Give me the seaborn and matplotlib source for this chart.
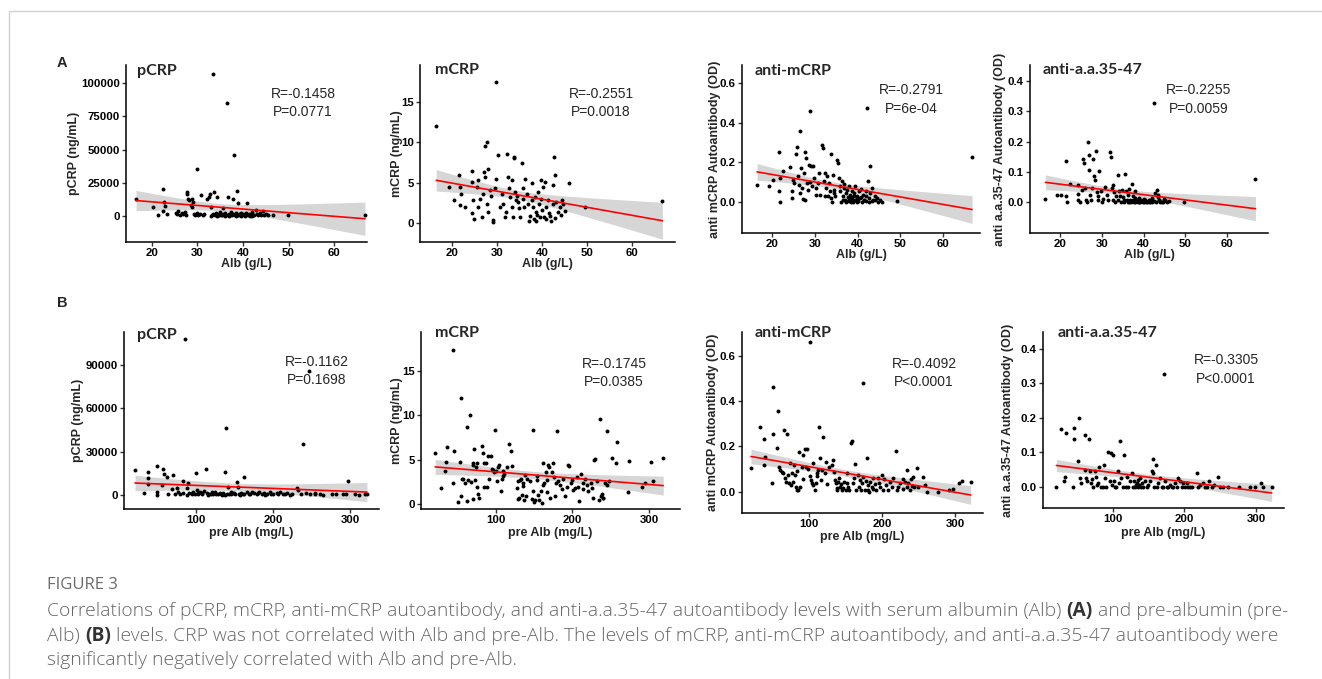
import numpy as np
import matplotlib
matplotlib.use("Agg")
import matplotlib.pyplot as plt
import seaborn as sns
from matplotlib.lines import Line2D

W, H, DPI = 1322, 679, 100

# ---- values: (x, y) per patient ----
pcrp_alb = [
    (16.5, 13000), (20.3, 6500), (21.3, 700), (22.5, 20300), (22.7, 10500), (22.9, 7500), (22.4, 4000),
    (23.4, 1500), (25.2, 2500), (25.5, 1200), (25.8, 3500), (26.2, 800), (26.5, 2000), (26.8, 1500),
    (27.2, 3000), (27.5, 600), (27.6, 18000), (27.7, 16800), (27.9, 13000), (28.2, 12000), (28.5, 8500),
    (28.7, 7000), (28.9, 12500), (29.0, 10500), (29.2, 1500), (29.5, 700), (29.8, 35000), (30.0, 2200),
    (30.2, 1000), (30.5, 1800), (30.8, 15500), (31.2, 800), (31.5, 1200), (32.0, 13000), (32.5, 14500),
    (32.8, 16500), (33.0, 7000), (33.2, 1000), (33.4, 107000), (33.6, 18000), (33.8, 500), (34.0, 2500),
    (34.2, 14500), (34.5, 800), (34.8, 1500), (35.0, 3000), (35.2, 600), (35.5, 6000), (35.7, 1200),
    (35.9, 500), (36.1, 2000), (36.3, 900), (36.5, 85000), (36.7, 14500), (36.9, 1500), (37.1, 700),
    (37.3, 3000), (37.5, 500), (37.7, 1200), (37.9, 12500), (38.0, 46000), (38.2, 800), (38.4, 2000),
    (38.6, 19000), (38.8, 600), (39.0, 9500), (39.2, 1500), (39.4, 500), (39.6, 2500), (39.8, 900),
    (40.0, 1300), (40.3, 600), (40.6, 2200), (40.8, 10000), (41.0, 800), (41.3, 1500), (41.6, 500),
    (41.9, 3000), (42.2, 1000), (42.5, 700), (42.8, 4500), (43.1, 1200), (43.4, 600), (43.7, 2000),
    (44.0, 900), (44.3, 3500), (44.6, 700), (45.0, 1500), (45.5, 800), (46.5, 1000), (49.8, 800),
    (66.8, 500), (33.0, 300), (34.3, 200), (35.4, 400), (36.0, 300), (37.0, 200), (38.5, 300),
    (39.5, 200), (40.5, 300), (41.5, 200), (42.0, 300), (36.8, 600), (35.8, 1800), (34.8, 400), (33.5, 1500),
]

mcrp_alb = [
    (16.5, 12.0), (19.4, 4.5), (20.4, 2.8), (21.5, 5.9), (21.7, 2.2), (21.8, 4.5), (22.0, 3.6), (22.8, 2.0),
    (24.4, 6.5), (24.4, 5.1), (24.6, 2.8), (24.4, 1.2), (24.8, 0.5), (25.5, 4.5), (25.7, 5.3), (25.9, 2.0),
    (26.3, 3.0), (26.6, 0.7), (27.0, 3.6), (27.2, 6.3), (27.4, 5.7), (27.4, 9.6), (27.7, 10.0), (27.7, 2.4),
    (28.1, 6.7), (28.1, 1.4), (28.5, 4.1), (28.7, 3.4), (29.2, 0.4), (29.2, 0.15), (29.6, 4.3), (29.8, 5.5),
    (29.9, 17.5), (30.3, 8.4), (30.6, 2.0), (31.1, 3.6), (31.4, 2.4), (31.8, 0.7), (32.0, 1.4), (32.2, 8.6),
    (32.5, 5.7), (32.8, 4.3), (32.9, 3.2), (33.3, 5.3), (33.3, 2.0), (33.5, 0.7), (33.7, 8.2), (33.8, 8.0),
    (34.0, 3.8), (34.2, 2.8), (34.4, 3.4), (34.8, 2.6), (35.0, 1.8), (35.1, 0.7), (35.5, 7.4), (35.7, 4.3),
    (35.9, 3.0), (36.0, 2.0), (36.2, 5.5), (36.6, 3.6), (37.0, 2.4), (37.2, 0.3), (37.3, 0.9), (37.7, 2.8),
    (37.9, 4.9), (38.1, 2.0), (38.2, 0.5), (38.5, 3.2), (38.7, 1.4), (38.8, 0.3), (39.2, 3.8), (39.4, 2.4),
    (39.6, 0.7), (39.7, 5.3), (39.9, 3.0), (40.1, 1.6), (40.3, 4.5), (40.7, 5.1), (40.9, 2.0), (41.0, 0.5),
    (41.4, 2.8), (41.8, 0.9), (42.1, 0.3), (42.4, 4.7), (42.5, 2.4), (42.7, 8.2), (42.9, 5.9), (43.2, 2.6),
    (43.6, 1.4), (44.0, 2.0), (44.4, 2.8), (44.7, 2.4), (46.1, 4.9), (49.5, 2.0), (66.8, 2.7),
    (39.0, 1.0), (40.5, 0.8), (41.5, 1.2), (43.0, 0.6), (44.2, 1.0), (45.2, 1.5),
]

amcrp_alb = [
    (16.5, 0.084), (19.4, 0.082), (20.2, 0.11), (21.6, 0.25), (21.6, 0.054), (21.8, 0.0), (21.8, 0.12),
    (22.6, 0.155), (24.3, 0.176), (24.7, 0.054), (24.7, 0.02), (24.9, 0.113), (25.1, 0.096), (25.7, 0.24),
    (25.9, 0.28), (26.0, 0.13), (26.3, 0.087), (26.5, 0.045), (26.6, 0.356), (26.8, 0.17), (27.0, 0.07),
    (27.3, 0.015), (27.4, 0.146), (27.6, 0.012), (27.8, 0.25), (28.0, 0.22), (28.2, 0.096), (28.4, 0.062),
    (28.6, 0.188), (28.8, 0.1), (29.0, 0.46), (29.1, 0.18), (29.4, 0.079), (29.6, 0.18), (29.9, 0.12),
    (30.2, 0.037), (30.4, 0.07), (30.7, 0.096), (30.9, 0.146), (31.3, 0.034), (31.7, 0.286), (31.9, 0.272),
    (32.1, 0.104), (32.3, 0.032), (32.5, 0.146), (32.7, 0.07), (32.9, 0.13), (33.0, 0.029), (33.3, 0.096),
    (33.5, 0.054), (33.7, 0.244), (33.8, 0.02), (34.1, 0.0), (34.3, 0.138), (34.5, 0.045), (34.6, 0.062),
    (34.8, 0.029), (35.2, 0.213), (35.4, 0.197), (35.6, 0.12), (35.8, 0.079), (36.0, 0.054), (36.2, 0.0),
    (36.4, 0.104), (36.6, 0.029), (36.8, 0.07), (36.9, 0.092), (37.1, 0.012), (37.3, 0.045), (37.4, 0.0),
    (37.6, 0.059), (37.7, 0.025), (37.9, 0.079), (38.0, 0.003), (38.2, 0.037), (38.4, 0.015), (38.5, 0.0),
    (38.7, 0.054), (38.8, 0.025), (39.0, 0.0), (39.1, 0.045), (39.3, 0.012), (39.5, 0.079), (39.8, 0.029),
    (39.9, 0.0), (40.3, 0.054), (40.5, 0.02), (40.7, 0.066), (41.1, 0.0), (41.3, 0.037), (41.5, 0.012),
    (41.9, 0.054), (42.1, 0.029), (42.3, 0.474), (42.4, 0.104), (42.7, 0.0), (42.9, 0.045), (43.0, 0.18),
    (43.4, 0.07), (43.7, 0.012), (44.2, 0.029), (44.8, 0.0), (45.8, 0.0), (49.3, 0.003), (66.8, 0.225),
    (36.5, 0.012), (37.2, 0.005), (38.0, 0.02), (38.6, 0.008), (39.2, 0.03), (39.8, 0.015), (40.2, 0.004),
    (40.8, 0.025), (41.4, 0.01), (42.0, 0.006), (42.6, 0.018), (43.3, 0.003), (44.0, 0.012), (44.6, 0.02),
    (45.3, 0.008),
]

aaa_alb = [
    (16.5, 0.011), (19.2, 0.022), (20.2, 0.022), (21.4, 0.137), (21.4, 0.019), (21.6, 0.0), (22.4, 0.06),
    (24.2, 0.057), (24.2, 0.026), (24.4, 0.008), (24.8, 0.0), (25.2, 0.041), (25.4, 0.141), (25.8, 0.13),
    (26.0, 0.046), (26.2, 0.008), (26.4, 0.0), (26.6, 0.2), (26.9, 0.156), (27.0, 0.106), (27.2, 0.024),
    (27.4, 0.008), (27.6, 0.046), (27.8, 0.141), (28.2, 0.087), (28.4, 0.073), (28.6, 0.167), (28.8, 0.032),
    (29.0, 0.019), (29.2, 0.008), (29.4, 0.101), (29.8, 0.038), (30.0, 0.0), (30.4, 0.01), (30.8, 0.048),
    (31.2, 0.024), (31.6, 0.008), (32.0, 0.164), (32.2, 0.148), (32.4, 0.046), (32.6, 0.055), (32.8, 0.008),
    (33.0, 0.032), (33.2, 0.0), (33.4, 0.019), (33.8, 0.09), (34.0, 0.008), (34.2, 0.035), (34.4, 0.021),
    (34.6, 0.0), (34.8, 0.041), (35.0, 0.015), (35.2, 0.008), (35.4, 0.0), (35.6, 0.092), (35.8, 0.038),
    (36.0, 0.008), (36.2, 0.024), (36.4, 0.0), (36.6, 0.043), (36.8, 0.008), (37.2, 0.06), (37.4, 0.019),
    (37.6, 0.0), (38.0, 0.038), (38.2, 0.008), (38.6, 0.0), (38.8, 0.013), (39.2, 0.0), (39.6, 0.008),
    (40.0, 0.0), (40.4, 0.008), (40.8, 0.0), (41.2, 0.008), (41.6, 0.0), (42.4, 0.326), (42.8, 0.03),
    (43.2, 0.041), (43.4, 0.024), (43.6, 0.008), (44.0, 0.0), (44.6, 0.0), (45.2, 0.005), (49.6, 0.0),
    (66.8, 0.077),
    (36.3, 0.0), (36.7, 0.004), (37.0, 0.0), (37.5, 0.006), (37.9, 0.0), (38.3, 0.003), (38.7, 0.008),
    (39.0, 0.0), (39.4, 0.004), (39.8, 0.0), (40.2, 0.006), (40.6, 0.0), (41.0, 0.003), (41.4, 0.0),
    (41.8, 0.008), (42.1, 0.0), (42.6, 0.004), (43.0, 0.0), (43.8, 0.006), (44.3, 0.0), (44.8, 0.003),
    (45.5, 0.0), (46.0, 0.004), (38.0, 0.012), (40.0, 0.01), (42.0, 0.012), (43.5, 0.015), (45.0, 0.01),
]

pcrp_pre = [
    (20.8, 17300), (32.9, 1600), (38.1, 16200), (38.1, 11500), (38.1, 7400), (49.8, 20000), (49.8, 2300),
    (49.8, 0), (55.4, 6900), (57.6, 17800), (58.4, 14300), (61.9, 12700), (64.1, 700), (68.4, 3900),
    (70.6, 13800), (72.7, 700), (74.9, 4600), (77.1, 1800), (79.2, 700), (82.7, 9900), (83.5, 1600),
    (85.7, 107800), (87.9, 4600), (89.2, 8100), (91.3, 1600), (94.4, 700), (96.5, 2300), (98.7, 700),
    (100.0, 15500), (100.9, 3500), (103.0, 1100), (105.2, 2100), (107.4, 500), (110.4, 2800), (113.0, 17800),
    (114.7, 1100), (117.3, 700), (120.3, 2300), (122.5, 700), (124.7, 1800), (129.0, 700), (131.2, 1600),
    (133.3, 200), (135.5, 1600), (137.7, 16200), (139.0, 46200), (139.8, 700), (141.1, 5800), (143.3, 700),
    (145.5, 2100), (147.6, 1100), (150.6, 700), (152.8, 8800), (154.1, 5300), (156.3, 700), (158.4, 1600),
    (160.6, 700), (162.8, 12700), (165.8, 2300), (169.3, 700), (172.3, 2300), (175.3, 1100), (178.8, 700),
    (182.3, 2100), (185.3, 700), (188.3, 1600), (191.8, 700), (196.1, 2300), (200.4, 700), (204.8, 1100),
    (209.1, 1800), (213.4, 700), (218.6, 1600), (224.2, 700), (230.7, 4600), (232.9, 3500), (235.9, 700),
    (239.4, 35100), (242.9, 1100), (247.2, 85800), (248.0, 700), (254.5, 1600), (261.0, 700), (276.2, 700),
    (291.3, 700), (297.0, 9700), (306.5, 700), (319.5, 700), (88.0, 300), (95.0, 1200), (102.0, 400),
    (108.0, 1500), (115.0, 300), (119.0, 1000), (126.0, 400), (132.0, 1000), (138.0, 300), (145.0, 500),
    (150.0, 1400), (157.0, 300), (163.0, 900), (170.0, 400), (180.0, 1200), (190.0, 300), (198.0, 900),
    (207.0, 400), (215.0, 1000), (222.0, 300), (255.0, 500), (265.0, 300), (282.0, 600), (295.0, 400),
    (312.0, 300), (322.0, 500),
]

mcrp_pre = [
    (20.5, 5.8), (27.7, 1.8), (33.3, 3.7), (34.6, 4.8), (35.5, 6.4), (44.2, 17.4), (45.1, 6.0), (44.2, 2.4),
    (50.8, 0.3), (53.0, 4.8), (53.8, 0.9), (54.2, 12.0), (55.1, 2.9), (56.4, 2.8), (59.5, 2.4), (61.7, 8.7),
    (62.5, 0.4), (63.8, 2.7), (66.0, 10.0), (66.9, 2.5), (69.5, 4.4), (70.4, 4.7), (70.4, 0.6), (71.7, 6.2),
    (72.6, 2.7), (73.9, 4.2), (74.7, 2.0), (75.6, 4.6), (76.9, 1.2), (78.2, 0.7), (81.3, 6.6), (82.6, 5.8),
    (85.0, 2.0), (84.8, 4.6), (87.0, 4.7), (87.8, 2.0), (90.0, 5.4), (91.3, 2.9), (93.0, 5.4), (94.3, 4.0),
    (95.6, 3.9), (97.4, 3.6), (98.7, 8.4), (100.0, 3.7), (100.9, 2.6), (103.0, 4.2), (104.4, 4.4), (106.1, 1.5),
    (107.4, 2.9), (108.7, 3.7), (109.6, 3.2), (110.9, 3.4), (114.8, 4.2), (117.4, 6.8), (119.2, 6.0),
    (120.5, 4.3), (127.0, 1.8), (128.3, 0.6), (129.2, 2.6), (130.5, 0.7), (131.4, 2.7), (132.2, 2.8),
    (133.6, 1.0), (134.9, 2.1), (135.7, 2.4), (136.6, 0.5), (137.9, 3.3), (139.2, 0.9), (140.1, 2.9),
    (144.4, 2.6), (146.6, 0.6), (147.9, 8.4), (148.8, 1.5), (149.7, 0.3), (151.0, 0.5), (153.2, 3.2),
    (154.1, 2.7), (155.3, 1.1), (156.6, 0.5), (158.4, 1.5), (159.7, 0.2), (161.0, 4.7), (161.9, 2.2),
    (162.7, 2.4), (165.4, 3.6), (166.2, 2.7), (167.1, 1.4), (168.4, 4.4), (169.7, 4.2), (170.6, 0.7),
    (172.8, 3.6), (174.9, 4.6), (176.3, 3.1), (177.1, 0.9), (178.4, 2.4), (180.2, 8.2), (181.5, 2.6),
    (183.7, 2.2), (185.8, 1.7), (188.0, 2.8), (190.2, 0.9), (192.4, 2.0), (194.5, 4.4), (195.8, 4.3),
    (197.6, 2.4), (198.9, 2.7), (201.1, 1.6), (203.3, 1.8), (205.4, 3.1), (207.6, 2.0), (208.9, 0.4),
    (210.7, 3.4), (213.3, 2.4), (214.2, 1.7), (216.3, 2.8), (218.5, 2.2), (220.7, 1.5), (223.7, 2.4),
    (225.0, 1.8), (226.4, 0.7), (228.1, 5.0), (229.4, 5.1), (231.6, 2.6), (235.1, 0.5), (236.0, 9.6),
    (236.8, 0.9), (238.1, 1.2), (239.4, 0.7), (240.3, 0.7), (242.5, 2.4), (244.7, 8.2), (245.5, 2.2),
    (248.1, 2.6), (251.2, 5.2), (256.9, 4.7), (258.6, 7.0), (273.0, 1.4), (274.3, 4.9), (290.4, 2.0),
    (294.8, 2.4), (302.2, 4.8), (305.7, 2.6), (318.7, 5.2),
]

amcrp_pre = [
    (20.5, 0.106), (32.9, 0.287), (38.4, 0.232), (38.4, 0.118), (39.7, 0.154), (48.9, 0.04), (50.2, 0.463),
    (51.1, 0.253), (56.6, 0.191), (58.0, 0.356), (59.4, 0.11), (60.3, 0.096), (62.6, 0.088), (64.8, 0.084),
    (66.2, 0.272), (67.1, 0.059), (68.5, 0.044), (70.3, 0.254), (71.7, 0.074), (73.1, 0.04), (74.0, 0.125),
    (74.9, 0.029), (76.3, 0.084), (77.6, 0.044), (79.5, 0.118), (80.8, 0.074), (82.2, 0.022), (83.1, 0.007),
    (84.0, 0.091), (85.4, 0.007), (86.8, 0.176), (87.7, 0.022), (90.0, 0.11), (91.3, 0.162), (92.2, 0.054),
    (94.5, 0.187), (95.9, 0.11), (97.7, 0.187), (99.1, 0.099), (101.4, 0.069), (101.0, 0.66), (102.3, 0.051),
    (103.7, 0.037), (105.0, 0.125), (105.9, 0.029), (108.2, 0.007), (109.6, 0.037), (110.5, 0.069),
    (111.4, 0.084), (112.8, 0.096), (114.2, 0.284), (115.1, 0.147), (116.0, 0.051), (117.4, 0.096),
    (119.6, 0.243), (121.9, 0.084), (123.3, 0.132), (125.1, 0.032), (127.9, 0.11), (131.1, 0.118),
    (132.4, 0.14), (134.2, 0.088), (135.6, 0.051), (137.0, 0.037), (137.9, 0.018), (138.8, 0.007),
    (140.2, 0.044), (141.6, 0.059), (142.5, 0.022), (143.4, 0.032), (144.7, 0.007), (146.1, 0.015),
    (147.9, 0.044), (150.7, 0.007), (151.6, 0.037), (152.5, 0.081), (153.9, 0.022), (155.3, 0.007),
    (157.1, 0.213), (158.4, 0.225), (159.8, 0.037), (161.6, 0.059), (163.0, 0.122), (164.4, 0.007),
    (167.6, 0.074), (169.0, 0.022), (169.9, 0.051), (170.8, 0.007), (172.1, 0.037), (173.5, 0.478),
    (174.4, 0.066), (176.7, 0.007), (178.1, 0.048), (179.0, 0.15), (180.4, 0.029), (181.3, 0.007),
    (182.6, 0.0), (183.6, 0.044), (185.8, 0.022), (187.2, 0.01), (188.1, 0.059), (190.4, 0.032),
    (191.8, 0.007), (195.0, 0.059), (196.3, 0.04), (197.3, 0.022), (199.5, 0.074), (200.9, 0.007),
    (202.7, 0.054), (205.5, 0.029), (208.7, 0.007), (211.0, 0.044), (213.2, 0.022), (215.5, 0.059),
    (219.2, 0.181), (220.1, 0.007), (222.4, 0.022), (224.7, 0.037), (228.3, 0.056), (229.2, 0.01),
    (231.5, 0.044), (233.8, 0.022), (234.7, 0.096), (236.1, 0.04), (238.4, 0.007), (239.3, 0.054),
    (240.6, 0.025), (242.0, 0.066), (243.8, 0.022), (248.4, 0.103), (249.8, 0.022), (256.6, 0.066),
    (258.9, 0.029), (261.2, 0.0), (277.2, 0.0), (292.2, 0.007), (297.7, 0.01), (305.9, 0.04),
    (309.1, 0.047), (321.5, 0.044),
]

aaa_pre = [
    (20.8, 0.0), (26.8, 0.167), (31.9, 0.017), (32.9, 0.029), (34.3, 0.157), (44.5, 0.0), (45.5, 0.169),
    (45.5, 0.139), (51.5, 0.075), (52.9, 0.199), (53.8, 0.024), (54.8, 0.012), (60.8, 0.15), (60.8, 0.048),
    (62.2, 0.024), (64.1, 0.015), (66.4, 0.138), (67.8, 0.044), (68.8, 0.01), (70.2, 0.021), (72.5, 0.0),
    (74.8, 0.044), (76.2, 0.029), (78.1, 0.005), (79.5, 0.012), (80.9, 0.058), (82.8, 0.0), (85.5, 0.0),
    (87.4, 0.063), (88.8, 0.024), (90.2, 0.0), (93.5, 0.102), (95.8, 0.017), (96.7, 0.097), (98.1, 0.005),
    (100.5, 0.092), (101.4, 0.015), (102.8, 0.0), (104.2, 0.0), (107.5, 0.044), (108.9, 0.012),
    (109.8, 0.133), (110.7, 0.024), (113.5, 0.0), (115.9, 0.092), (118.2, 0.0), (120.0, 0.029),
    (121.4, 0.0), (123.8, 0.015), (126.1, 0.039), (127.5, 0.0), (129.4, 0.015), (130.8, 0.0),
    (132.2, 0.005), (133.1, 0.012), (134.5, 0.0), (135.4, 0.019), (136.8, 0.005), (137.8, 0.024),
    (138.7, 0.0), (140.1, 0.012), (142.4, 0.0), (144.8, 0.015), (147.1, 0.0), (149.4, 0.005), (151.7, 0.015),
    (154.1, 0.044), (155.5, 0.079), (156.4, 0.039), (157.3, 0.0), (160.1, 0.063), (161.1, 0.0),
    (163.4, 0.012), (165.7, 0.024), (168.1, 0.0), (170.4, 0.0), (171.8, 0.326), (172.7, 0.015),
    (175.1, 0.0), (177.4, 0.0), (179.7, 0.005), (182.1, 0.0), (184.4, 0.0), (186.7, 0.01), (189.0, 0.0),
    (191.4, 0.024), (193.7, 0.015), (196.0, 0.0), (198.4, 0.012), (200.7, 0.0), (203.0, 0.01), (205.4, 0.0),
    (207.7, 0.0), (210.0, 0.0), (218.0, 0.041), (219.3, 0.0), (221.7, 0.005), (225.4, 0.01), (228.7, 0.0),
    (231.0, 0.0), (234.7, 0.015), (238.0, 0.0), (241.3, 0.005), (247.3, 0.027), (249.7, 0.0), (254.3, 0.0),
    (261.3, 0.0), (276.7, 0.0), (291.6, 0.0), (298.6, 0.0), (306.5, 0.01), (310.3, 0.0), (321.9, 0.0),
]

titles = ["pCRP", "mCRP", "anti-mCRP", "anti-a.a.35-47"]
ylabels = ["pCRP (ng/mL)", "mCRP (ng/mL)", "anti mCRP Autoantibody (OD)", "anti a.a.35-47 Autoantibody (OD)"]
stats_alb = [("R=-0.1458", "P=0.0771"), ("R=-0.2551", "P=0.0018"), ("R=-0.2791", "P=6e-04"), ("R=-0.2255", "P=0.0059")]
stats_pre = [("R=-0.1162", "P=0.1698"), ("R=-0.1745", "P=0.0385"), ("R=-0.4092", "P<0.0001"), ("R=-0.3305", "P<0.0001")]

alb_ticks = [20, 30, 40, 50, 60]
pre_ticks = [100, 200, 300]
pcrp_ticks_alb = [0, 25000, 50000, 75000, 100000]
pcrp_ticks_pre = [0, 30000, 60000, 90000]
mcrp_ticks = [0, 5, 10, 15]
amcrp_ticks = [0.0, 0.2, 0.4, 0.6]
aaa_ticks = [0.0, 0.1, 0.2, 0.3, 0.4]

caption_lines = [
    [("Correlations of pCRP, mCRP, anti-mCRP autoantibody, and anti-a.a.35-47 autoantibody levels with serum albumin (Alb) ", False),
     ("(A)", True), (" and pre-albumin (pre-", False)],
    [("Alb) ", False), ("(B)", True),
     (" levels. CRP was not correlated with Alb and pre-Alb. The levels of mCRP, anti-mCRP autoantibody, and anti-a.a.35-47 autoantibody were", False)],
    [("significantly negatively correlated with Alb and pre-Alb.", False)],
]

# ---- layout in pixels (left, top, right, bottom), limits, label positions ----
layout = [
    dict(data=pcrp_alb, box=(126, 65, 367, 242), xlim=(14.29, 67.25), ylim=(-19549, 113534),
         xt=alb_ticks, yt=pcrp_ticks_alb, yfmt="{:d}", k=0, stats=stats_alb[0], sxy=(303, 103),
         ylx=74, xly=264, xlabel="Alb (g/L)", txy=(137, 71)),
    dict(data=mcrp_alb, box=(420, 65, 675, 242), xlim=(12.9, 69.6), ylim=(-2.36, 19.59),
         xt=alb_ticks, yt=mcrp_ticks, yfmt="{:d}", k=1, stats=stats_alb[1], sxy=(601, 103),
         ylx=397, xly=264, xlabel="Alb (g/L)", txy=(435, 70)),
    dict(data=amcrp_alb, box=(742, 65, 980, 233), xlim=(12.98, 68.65), ylim=(-0.156, 0.691),
         xt=alb_ticks, yt=amcrp_ticks, yfmt="{:.1f}", k=2, stats=stats_alb[2], sxy=(911, 99.5),
         ylx=715, xly=255, xlabel="Alb (g/L)", txy=(755, 71)),
    dict(data=aaa_alb, box=(1030, 65, 1268, 233), xlim=(12.81, 69.8), ylim=(-0.1025, 0.453),
         xt=alb_ticks, yt=aaa_ticks, yfmt="{:.1f}", k=3, stats=stats_alb[3], sxy=(1199, 99.5),
         ylx=1000, xly=255, xlabel="Alb (g/L)", txy=(1043, 70)),
    dict(data=pcrp_pre, box=(124, 332, 379, 509), xlim=(6.5, 337.7), ylim=(-9700, 112850),
         xt=pre_ticks, yt=pcrp_ticks_pre, yfmt="{:d}", k=0, stats=stats_pre[0], sxy=(317, 371),
         ylx=78, xly=533, xlabel="pre Alb (mg/L)", txy=(137, 335)),
    dict(data=mcrp_pre, box=(421, 332, 680, 509), xlim=(2.0, 340.6), ylim=(-0.53, 19.39),
         xt=pre_ticks, yt=mcrp_ticks, yfmt="{:d}", k=1, stats=stats_pre[1], sxy=(614, 373),
         ylx=397, xly=533, xlabel="pre Alb (mg/L)", txy=(435, 333)),
    dict(data=amcrp_pre, box=(742, 332, 983, 513), xlim=(8.2, 338.3), ylim=(-0.094, 0.705),
         xt=pre_ticks, yt=amcrp_ticks, yfmt="{:.1f}", k=2, stats=stats_pre[2], sxy=(924, 373),
         ylx=713, xly=537, xlabel="pre Alb (mg/L)", txy=(755, 333)),
    dict(data=aaa_pre, box=(1043, 332, 1284, 508), xlim=(2.1, 339.2), ylim=(-0.062, 0.449),
         xt=pre_ticks, yt=aaa_ticks, yfmt="{:.1f}", k=3, stats=stats_pre[3], sxy=(1226, 369.5),
         ylx=1008, xly=533, xlabel="pre Alb (mg/L)", txy=(1058, 333)),
]

sns.set_theme(style="ticks")
plt.rcParams["font.family"] = ["Liberation Sans", "DejaVu Sans"]
TITLE_FONT = ["Lato", "DejaVu Sans"]
CAP_FONT = ["Open Sans", "DejaVu Sans"]

fig = plt.figure(figsize=(W / DPI, H / DPI), dpi=DPI)
fig.patch.set_facecolor("white")


def fx(px):
    return px / W


def fy(py):
    return 1 - py / H


def lm_band(x, y, grid, t=1.977):
    # ordinary least squares confidence band (like geom_smooth(method="lm"))
    n = len(x)
    b1, b0 = np.polyfit(x, y, 1)
    resid = y - (b0 + b1 * x)
    s = np.sqrt(np.sum(resid ** 2) / (n - 2))
    sxx = np.sum((x - x.mean()) ** 2)
    se = s * np.sqrt(1 / n + (grid - x.mean()) ** 2 / sxx)
    fit = b0 + b1 * grid
    return fit - t * se, fit + t * se


for p in layout:
    l, t, r, b = p["box"]
    ax = fig.add_axes([fx(l), fy(b), (r - l) / W, (b - t) / H])
    x = np.array([v[0] for v in p["data"]], dtype=float)
    y = np.array([v[1] for v in p["data"]], dtype=float)

    grid = np.linspace(x.min(), x.max(), 100)
    lo, hi = lm_band(x, y, grid)
    ax.fill_between(grid, lo, hi, color="#999999", alpha=0.4, lw=0, zorder=1)
    sns.regplot(x=x, y=y, ax=ax, ci=None, truncate=True,
                scatter_kws=dict(s=8, color="black", linewidths=0, alpha=1, zorder=2),
                line_kws=dict(color="red", lw=1.2, zorder=3))

    ax.set_xlim(*p["xlim"])
    ax.set_ylim(*p["ylim"])
    ax.set_xticks(p["xt"])
    ax.set_xticklabels([str(v) for v in p["xt"]], fontweight="bold", fontsize=8.2)
    ax.set_yticks(p["yt"])
    ax.set_yticklabels([p["yfmt"].format(v) for v in p["yt"]], fontweight="bold", fontsize=8.2)
    ax.tick_params(length=3, width=1, color="#333333", pad=1.5, labelcolor="black")
    sns.despine(ax=ax)
    for side in ["left", "bottom"]:
        ax.spines[side].set_linewidth(1.1)
        ax.spines[side].set_color("black")
    ax.set_facecolor("white")

    ax.set_ylabel(ylabels[p["k"]], fontsize=9, fontweight="bold", va="center")
    ax.yaxis.set_label_coords((p["ylx"] - l) / (r - l), 0.5)
    ax.set_xlabel(p["xlabel"], fontsize=9, fontweight="bold", va="center")
    ax.xaxis.set_label_coords(0.5, (b - p["xly"]) / (b - t))

    fig.text(fx(p["txy"][0]), fy(p["txy"][1]), titles[p["k"]], ha="left", va="center",
             fontsize=11.5, fontweight="bold", family=TITLE_FONT)
    fig.text(fx(p["sxy"][0]), fy(p["sxy"][1]), "\n".join(p["stats"]), ha="center", va="center",
             multialignment="center", fontsize=10, linespacing=1.4)

# panel letters
fig.text(fx(62), fy(63), "A", ha="center", va="center", fontsize=10.5, fontweight="bold")
fig.text(fx(62), fy(303), "B", ha="center", va="center", fontsize=10.5, fontweight="bold")

# card border
fig.add_artist(Line2D([fx(9), fx(9)], [0, fy(11)], color="#d0d0d0", lw=1))
fig.add_artist(Line2D([fx(9), 1], [fy(11), fy(11)], color="#d0d0d0", lw=1))

# caption
fig.text(fx(47), fy(585), "FIGURE 3", ha="left", va="center", fontsize=12, color="#6a6a6a", family=CAP_FONT)
renderer = fig.canvas.get_renderer()
for line, ypx in zip(caption_lines, [611, 636, 660]):
    xpx = 47
    for s, bold in line:
        tx = fig.text(fx(xpx), fy(ypx), s, ha="left", va="center", fontsize=13.9,
                      color="#333333" if bold else "#666666", fontweight="bold" if bold else "light",
                      family=CAP_FONT)
        xpx += tx.get_window_extent(renderer).width

fig.savefig("out.png", dpi=DPI)
